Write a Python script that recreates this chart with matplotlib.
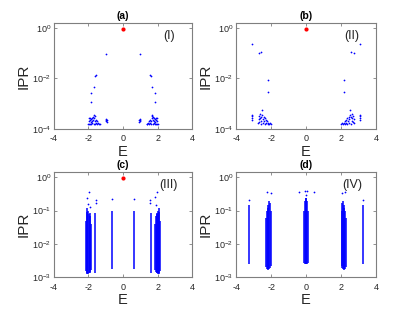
import matplotlib.pyplot as plt
from matplotlib.ticker import NullLocator

plt.rcParams['font.family'] = ['Liberation Sans', 'DejaVu Sans']
plt.rcParams['axes.unicode_minus'] = False

# ---- panel (a): isolated states + low-IPR clusters ----
a_E = [-0.98, 0.98, -1.62, -1.58, 1.58, 1.62, -1.7, 1.7, -1.83, 1.83, -1.87, 1.87,
       -2.02, -1.99, -1.97, -1.95, -1.93, -1.91, -1.89, -1.87, -1.85, -1.83, -1.81,
       -1.79, -1.77, -1.75, -1.73, -1.71, -1.69, -1.67, -1.65, -1.63, -1.61, -1.58,
       -1.55, -1.52, -1.48, -1.44, -1.4, -1.36,
       -1.0, -0.98, -0.96, -0.94, -0.92,
       1.36, 1.4, 1.44, 1.48, 1.52, 1.55, 1.58, 1.61, 1.63, 1.65, 1.67, 1.69, 1.71,
       1.73, 1.75, 1.77, 1.79, 1.81, 1.83, 1.85, 1.87, 1.89, 1.91, 1.93, 1.95, 1.97,
       1.99, 2.02,
       0.92, 0.94, 0.96, 0.98, 1.0]
a_ipr = [0.09, 0.09, 0.012, 0.0135, 0.0135, 0.012, 0.0044, 0.0044, 0.0026, 0.0026,
         0.00114, 0.00114,
         1.5e-4, 2.0e-4, 2.6e-4, 1.6e-4, 2.2e-4, 1.5e-4, 2.8e-4, 1.8e-4, 2.4e-4,
         1.5e-4, 2.1e-4, 2.7e-4, 1.7e-4, 3.0e-4, 2.2e-4, 1.6e-4, 3.4e-4, 2.6e-4,
         3.1e-4, 2.0e-4, 1.5e-4, 2.3e-4, 1.7e-4, 2.0e-4, 1.5e-4, 1.7e-4, 1.5e-4, 1.6e-4,
         2.0e-4, 2.5e-4, 2.2e-4, 1.9e-4, 2.3e-4,
         1.6e-4, 1.5e-4, 1.7e-4, 1.5e-4, 2.0e-4, 1.7e-4, 2.3e-4, 1.5e-4, 2.0e-4,
         3.1e-4, 2.6e-4, 3.4e-4, 1.6e-4, 2.2e-4, 3.0e-4, 1.7e-4, 2.7e-4, 2.1e-4,
         1.5e-4, 2.4e-4, 1.8e-4, 2.8e-4, 1.5e-4, 2.2e-4, 1.6e-4, 2.6e-4, 2.0e-4, 1.5e-4,
         2.3e-4, 1.9e-4, 2.2e-4, 2.5e-4, 2.0e-4]

# ---- panel (b) ----
b_E = [-3.1, -2.72, -2.55, -2.15, -2.15, 3.1, 2.72, 2.55, 2.17, 2.17,
       -3.1, -3.1, -3.1, -3.1,
       -2.75, -2.72, -2.7, -2.68, -2.65, -2.62, -2.6, -2.57, -2.55, -2.52, -2.5,
       -2.48, -2.45, -2.43, -2.4, -2.37, -2.34, -2.3, -2.27, -2.24, -2.2, -2.15,
       -2.1, -2.05, -2.02,
       3.1, 3.1, 3.1, 3.1,
       2.02, 2.05, 2.1, 2.15, 2.2, 2.24, 2.27, 2.3, 2.34, 2.37, 2.4, 2.43, 2.45,
       2.48, 2.5, 2.52, 2.55, 2.57, 2.6, 2.62, 2.65, 2.68, 2.7, 2.72, 2.75]
b_ipr = [0.23, 0.1, 0.11, 0.0085, 0.0028, 0.23, 0.1, 0.11, 0.0085, 0.0028,
         2.3e-4, 2.7e-4, 3.1e-4, 3.5e-4,
         1.7e-4, 2.4e-4, 3.2e-4, 1.8e-4, 2.8e-4, 4.0e-4, 2.1e-4, 3.0e-4, 1.6e-4,
         5.5e-4, 3.6e-4, 2.4e-4, 1.7e-4, 3.0e-4, 2.0e-4, 2.7e-4, 1.6e-4, 2.3e-4,
         1.7e-4, 2.0e-4, 1.6e-4, 1.7e-4, 1.6e-4, 1.7e-4, 1.6e-4,
         2.3e-4, 2.7e-4, 3.1e-4, 3.5e-4,
         1.6e-4, 1.7e-4, 1.6e-4, 1.7e-4, 1.6e-4, 2.0e-4, 1.7e-4, 2.3e-4, 1.6e-4,
         2.7e-4, 2.0e-4, 3.0e-4, 1.7e-4, 2.4e-4, 3.6e-4, 5.5e-4, 1.6e-4, 3.0e-4,
         2.1e-4, 4.0e-4, 2.8e-4, 1.8e-4, 3.2e-4, 2.4e-4, 1.7e-4]

# ---- panel (c): dense bands (E, low, high) + isolated points ----
c_band_E = [-2.14, -2.1, -2.06, -2.02, -1.98, -1.94, -1.9, -1.86, -1.63,
            -0.65, 0.65, 1.62, 1.86, 1.9, 1.94, 1.98, 2.02, 2.06, 2.1, 2.14]
c_band_lo = [1.5e-3, 1.3e-3, 1.25e-3, 1.2e-3, 1.3e-3, 1.35e-3, 1.4e-3, 1.6e-3, 1.35e-3,
             1.8e-3, 1.8e-3, 1.35e-3, 1.6e-3, 1.4e-3, 1.35e-3, 1.3e-3, 1.2e-3, 1.25e-3,
             1.3e-3, 1.5e-3]
c_band_hi = [0.05, 0.09, 0.12, 0.1, 0.08, 0.085, 0.07, 0.04, 0.085,
             0.1, 0.1, 0.085, 0.04, 0.07, 0.085, 0.08, 0.1, 0.12, 0.09, 0.05]
c_E = [-1.96, -2.06, -2.02, -1.93, -1.58, -1.58, -0.63, 0.63, 1.58, 1.58, 1.96, 1.87, 1.93]
c_ipr = [0.35, 0.24, 0.16, 0.13, 0.21, 0.17, 0.22, 0.22, 0.21, 0.17, 0.35, 0.26, 0.15]

# ---- panel (d) ----
d_band_E = [-3.25, -2.27, -2.23, -2.19, -2.15, -2.11, -2.07, -2.03,
            -0.1, -0.06, -0.02, 0.02, 0.06, 0.1,
            2.03, 2.07, 2.11, 2.15, 2.19, 2.23, 2.27, 3.25]
d_band_lo = [2.5e-3, 2.0e-3, 1.7e-3, 1.65e-3, 1.7e-3, 1.8e-3, 1.9e-3, 2.2e-3,
             2.7e-3, 2.5e-3, 2.5e-3, 2.5e-3, 2.5e-3, 2.7e-3,
             2.2e-3, 1.9e-3, 1.8e-3, 1.7e-3, 1.65e-3, 1.7e-3, 2.0e-3, 2.5e-3]
d_band_hi = [0.15, 0.06, 0.1, 0.12, 0.15, 0.19, 0.17, 0.1,
             0.1, 0.2, 0.24, 0.24, 0.2, 0.1,
             0.1, 0.17, 0.19, 0.15, 0.12, 0.1, 0.06, 0.15]
d_E = [-3.25, -2.25, -2.03, -0.42, 0.44, -0.04, 0.04, 0.0, 2.05, 2.25, 3.25]
d_ipr = [0.21, 0.36, 0.34, 0.36, 0.36, 0.38, 0.38, 0.3, 0.33, 0.37, 0.21]

# localized zero mode (red)
red_E = [0.0]
red_ipr = [0.88]
red_ipr_c = [0.95]

blue = '#0000ff'
red = '#ff0000'
frame = '#7f7f7f'
txt = '#262626'

fig = plt.figure(figsize=(4.15, 3.12), dpi=100)
ax_a = fig.add_axes([0.130, 0.587, 0.333, 0.340])
ax_b = fig.add_axes([0.569, 0.587, 0.337, 0.340])
ax_c = fig.add_axes([0.130, 0.112, 0.333, 0.337])
ax_d = fig.add_axes([0.569, 0.112, 0.337, 0.337])

ax_a.scatter(a_E, a_ipr, s=1.6, color=blue, linewidths=0)
ax_a.scatter(red_E, red_ipr, s=9, color=red, linewidths=0)
ax_b.scatter(b_E, b_ipr, s=1.6, color=blue, linewidths=0)
ax_b.scatter(red_E, red_ipr, s=9, color=red, linewidths=0)

ax_c.vlines(c_band_E, c_band_lo, c_band_hi, color=blue, lw=1.1)
ax_c.scatter(c_E, c_ipr, s=1.6, color=blue, linewidths=0)
ax_c.scatter(red_E, red_ipr_c, s=9, color=red, linewidths=0)
ax_d.vlines(d_band_E, d_band_lo, d_band_hi, color=blue, lw=1.1)
ax_d.scatter(d_E, d_ipr, s=1.6, color=blue, linewidths=0)

panels = [(ax_a, '(a)', '(I)', 1e-4, 1.58),
          (ax_b, '(b)', '(II)', 1e-4, 1.58),
          (ax_c, '(c)', '(III)', 1e-3, 1.45),
          (ax_d, '(d)', '(IV)', 1e-3, 1.45)]

for ax, title, tag, ylo, yhi in panels:
    ax.set_yscale('log')
    ax.set_xlim(-4, 4)
    ax.set_ylim(ylo, yhi)
    ax.set_xticks([-4, -2, 0, 2, 4])
    if ylo == 1e-4:
        ax.set_yticks([1e-4, 1e-2, 1e0])
    else:
        ax.set_yticks([1e-3, 1e-2, 1e-1, 1e0])
    ax.yaxis.set_minor_locator(NullLocator())
    ax.tick_params(direction='in', length=2, width=0.6, top=True, right=True,
                   labelsize=6.5, colors=frame, labelcolor=txt)
    ax.tick_params(axis='x', pad=4)
    ax.tick_params(axis='y', pad=2)
    for sp in ax.spines.values():
        sp.set_color(frame)
        sp.set_linewidth(0.8)
    ax.set_xlabel('E', fontsize=10.5, color=txt, labelpad=1)
    ax.set_ylabel('IPR', fontsize=11, color=txt, labelpad=1)
    ax.set_title(title, fontsize=7.5, fontweight='bold', pad=3)
    ax.text(0.83, 0.88, tag, transform=ax.transAxes, fontsize=9, color=txt,
            ha='center', va='center')

fig.savefig('out.png', dpi=100)
